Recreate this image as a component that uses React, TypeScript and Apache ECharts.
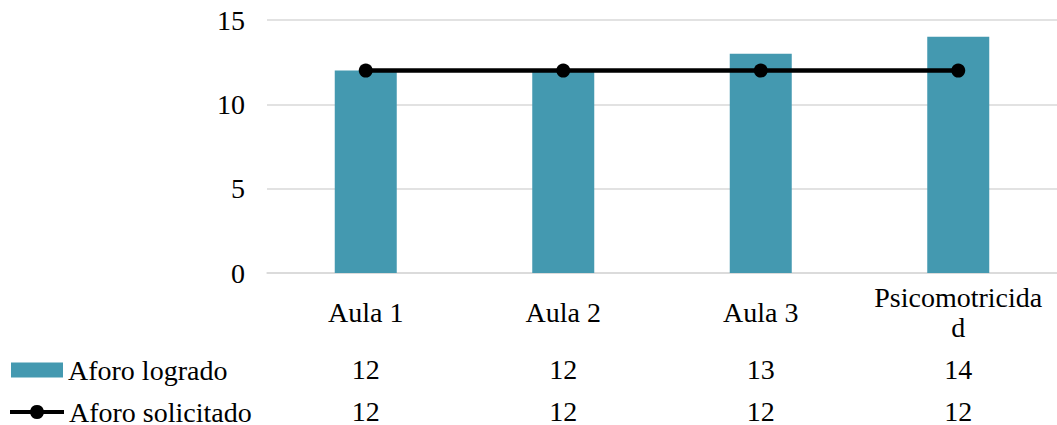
import React, { useEffect, useRef } from "react";
import * as echarts from "echarts";

const categories = ["Aula 1", "Aula 2", "Aula 3", "Psicomotricidad"];
const aforoLogrado = [12, 12, 13, 14];
const aforoSolicitado = [12, 12, 12, 12];
const seriesNames = ["Aforo logrado", "Aforo solicitado"];

const FONT = "Liberation Serif";
const FS = 28;
const LINE_ICON =
  "path://M0,6L20.3,6A7,7 0 0 1 33.7,6L54,6L54,10L33.7,10A7,7 0 0 1 20.3,10L0,10Z";

export default function App() {
  const ref = useRef<HTMLDivElement>(null);
  useEffect(() => {
    document.body.style.margin = "0";
    if (!ref.current) return;
    const chart = echarts.init(ref.current, null, { renderer: "svg" });
    const txt = { fontFamily: FONT, fontSize: FS, color: "#000" };
    const tableAxis = (values: number[], margin: number) => ({
      type: "category",
      data: categories,
      position: "bottom",
      axisLine: { show: false },
      axisTick: { show: false },
      splitLine: { show: false },
      axisLabel: {
        ...txt,
        margin,
        verticalAlign: "middle",
        interval: 0,
        formatter: (_v: string, i: number) => String(values[i]),
      },
    });
    chart.setOption({
      animation: false,
      textStyle: { fontFamily: FONT },
      grid: { left: 267, right: -6, top: 20, bottom: 152 },
      legend: [
        {
          data: [{ name: seriesNames[0], icon: "rect" }],
          left: 6,
          top: 351,
          itemWidth: 52,
          itemHeight: 15,
          itemGap: 5,
          textStyle: { ...txt, lineHeight: 26 },
        },
        {
          data: [{ name: seriesNames[1], icon: LINE_ICON }],
          left: 5,
          top: 393,
          itemWidth: 54,
          itemHeight: 16,
          textStyle: { ...txt, lineHeight: 26 },
        },
      ],
      xAxis: [
        {
          type: "category",
          data: categories,
          axisLine: { lineStyle: { color: "#d9d9d9", width: 1.5 } },
          axisTick: { show: false },
          axisLabel: {
            ...txt,
            margin: 39,
            verticalAlign: "middle",
            lineHeight: 30,
            interval: 0,
            width: 176,
            overflow: "breakAll",
          },
        },
        tableAxis(aforoLogrado, 96),
        tableAxis(aforoSolicitado, 138),
      ],
      yAxis: {
        type: "value",
        min: 0,
        max: 15,
        interval: 5,
        axisLine: { show: false },
        axisTick: { show: false },
        splitLine: { lineStyle: { color: "#d9d9d9", width: 1.5 } },
        axisLabel: { ...txt, margin: 22 },
      },
      series: [
        {
          name: seriesNames[0],
          type: "bar",
          data: aforoLogrado,
          barWidth: 62,
          itemStyle: { color: "#4499B0" },
        },
        {
          name: seriesNames[1],
          type: "custom",
          data: aforoSolicitado.map((v, i) => [i, v]),
          encode: { x: 0, y: 1 },
          itemStyle: { color: "#000" },
          z: 3,
          renderItem: (params: any, api: any) => {
            const i = params.dataIndex;
            const p = api.coord([i, api.value(1)]);
            const children: any[] = [];
            if (i < aforoSolicitado.length - 1) {
              const q = api.coord([i + 1, aforoSolicitado[i + 1]]);
              children.push({
                type: "line",
                shape: { x1: p[0], y1: p[1], x2: q[0], y2: q[1] },
                style: { stroke: "#000", lineWidth: 4.5 },
              });
            }
            children.push({
              type: "circle",
              shape: { cx: p[0], cy: p[1], r: 7 },
              style: { fill: "#000" },
            });
            return { type: "group", children };
          },
        },
      ],
    });
    return () => chart.dispose();
  }, []);
  return <div ref={ref} style={{ width: 1057, height: 425 }} />;
}
